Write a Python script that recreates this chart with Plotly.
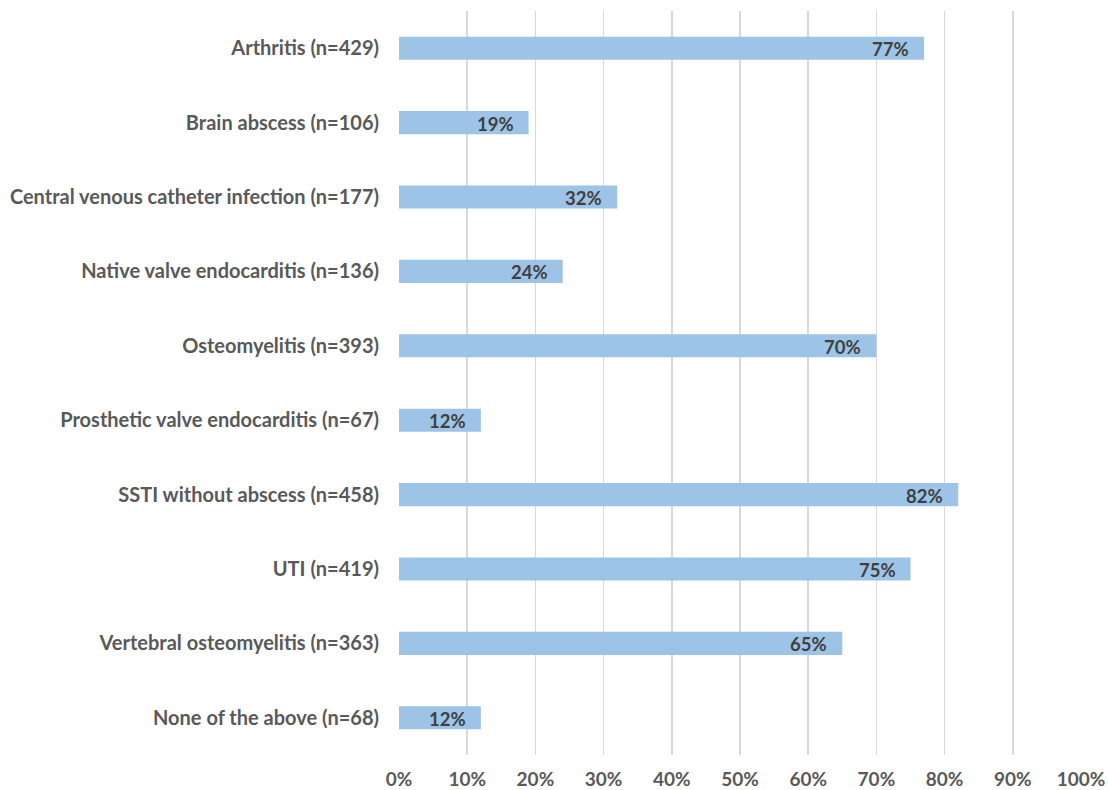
import plotly.graph_objects as go

categories = [
    "Arthritis (n=429)",
    "Brain abscess (n=106)",
    "Central venous catheter infection (n=177)",
    "Native valve endocarditis (n=136)",
    "Osteomyelitis (n=393)",
    "Prosthetic valve endocarditis (n=67)",
    "SSTI without abscess (n=458)",
    "UTI (n=419)",
    "Vertebral osteomyelitis (n=363)",
    "None of the above (n=68)",
]
values = [77, 19, 32, 24, 70, 12, 82, 75, 65, 12]
tick_vals = [0, 10, 20, 30, 40, 50, 60, 70, 80, 90, 100]
tick_text = [f"{v}%" for v in tick_vals]

FONT = "Lato, Carlito, 'Open Sans', sans-serif"

fig = go.Figure(go.Bar(
    y=categories,
    x=values,
    orientation="h",
    width=0.31,
    marker=dict(color="#9DC3E6", line=dict(width=0)),
    hoverinfo="skip",
))

for cat, v in zip(categories, values):
    fig.add_annotation(
        x=v, y=cat, xref="x", yref="y",
        text=f"{v}%", showarrow=False,
        xanchor="right", xshift=-13, yshift=-1,
        font=dict(family=FONT, size=18.5, color="#404040", weight="bold"),
    )

fig.update_layout(
    width=1108,
    height=790,
    margin=dict(l=399, r=27, t=11, b=35, autoexpand=False),
    paper_bgcolor="white",
    plot_bgcolor="white",
    showlegend=False,
    font=dict(family=FONT, size=20, color="#595959", weight="bold"),
    xaxis=dict(
        range=[0, 100],
        tickvals=tick_vals,
        ticktext=tick_text,
        showgrid=True,
        gridcolor="#D9D9D9",
        gridwidth=1.5,
        zeroline=False,
        showline=False,
        ticks="",
        ticklabelstandoff=11,
        ticklabeloverflow="allow",
        automargin=False,
        tickfont=dict(family=FONT, size=19, color="#595959", weight="bold"),
        fixedrange=True,
    ),
    yaxis=dict(
        autorange="reversed",
        showgrid=False,
        zeroline=False,
        showline=False,
        ticks="",
        ticklabelstandoff=19,
        automargin=False,
        tickfont=dict(family=FONT, size=20, color="#595959", weight="bold"),
        fixedrange=True,
    ),
)

fig.write_html(
    "out.html",
    config={"displayModeBar": False, "staticPlot": True},
    post_script="document.body.style.margin='0';document.body.style.overflow='hidden';",
)
